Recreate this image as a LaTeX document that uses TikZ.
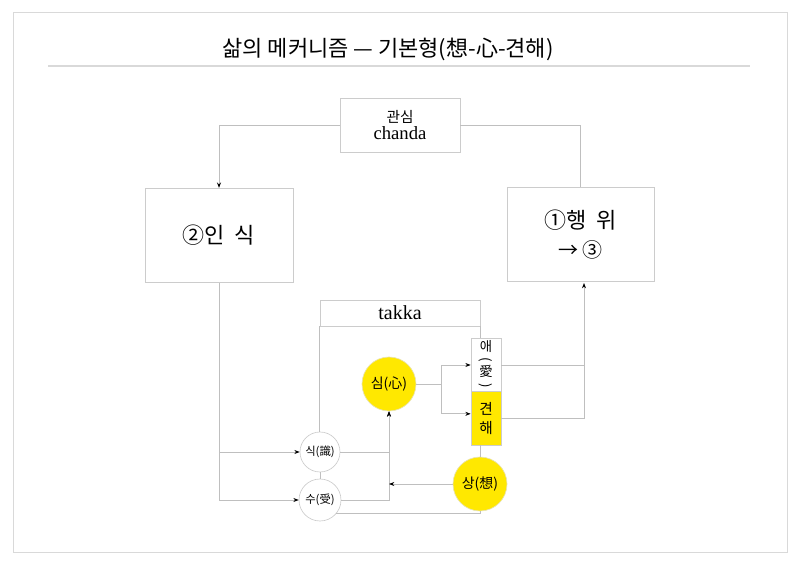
\documentclass[tikz,border=0pt]{standalone}
\usepackage{fontspec}
\usepackage{graphicx}
\setmainfont{Liberation Serif}
\newfontfamily\kr{Noto Sans CJK KR}
\newcommand\tightlines{\lineskiplimit=-20pt\lineskip=0pt\relax}
\usetikzlibrary{arrows.meta}
\definecolor{lemon}{HTML}{FFE800}
\begin{document}
\begin{tikzpicture}[x=0.75pt,y=-0.75pt,
link/.style={draw=black!25, line width=0.5pt},
tip/.style={-{Stealth[length=4pt,width=3pt,black]}},
box/.style={draw=black!20, line width=0.5pt, rectangle, inner sep=0pt, align=center},
bead/.style={draw=black!20, line width=0.5pt, circle, inner sep=0pt, minimum size=30pt, font=\kr\fontsize{8.5}{10}\selectfont},
yolk/.style={bead, fill=lemon, draw=lemon!70!black!30, minimum size=40.5pt, font=\kr\fontsize{10.5}{12}\selectfont}]
\useasboundingbox (0,0) rectangle (800,566);
\draw[draw=black!15, line width=0.6pt] (13,12) rectangle (787,552);
\node (title) at (388,49) {\kr\fontsize{16.5}{19}\selectfont 삶의 메커니즘 — 기본형(想-心-견해)};
\draw[draw=black!15, line width=0.8pt] (48,66) -- (750,66);
% boxes
\node[box, minimum width=90pt, minimum height=40.5pt] (chanda) at (400,125)
  {{\kr\fontsize{11}{13}\selectfont 관심}\\[1pt]\fontsize{14}{16}\selectfont chanda};
\node[box, minimum width=111pt, minimum height=71pt, font=\kr\fontsize{16.5}{20}\selectfont] (insik) at (219,235.5) {②인\ \ 식};
\node[box, minimum width=110pt, minimum height=70pt, font=\kr\fontsize{16.5}{22}\selectfont] (haengwi) at (580.5,234.5) {①행\ \ 위\\{\fontsize{15}{18}\selectfont → ③}};
\node[box, minimum width=120pt, minimum height=19.5pt, font=\fontsize{15}{17}\selectfont] (takka) at (400,313) {takka};
\node[box, minimum width=22.5pt, minimum height=40.5pt, fill=white,
  font=\kr\fontsize{10}{9.7}\selectfont\tightlines] (ae) at (486,365)
  {애\\\rotatebox[origin=c]{-90}{(}\\愛\\\rotatebox[origin=c]{-90}{)}};
\node[box, minimum width=22.5pt, minimum height=40pt, fill=lemon, font=\kr\fontsize{11}{14}\selectfont] (gyeonhae) at (486,418.5) {견\\해};
% circles
\node[yolk] (sim) at (389,384) {심(心)};
\node[yolk] (sang) at (480,484) {상(想)};
\node[bead] (sik) at (320,452) {식(識)};
\node[bead, minimum size=31.5pt] (su) at (320,500) {수(受)};
\coordinate (fork) at (441,384);
\coordinate (riser) at (584,283);
% connectors
\draw[link, tip] (chanda.west) -| (insik.north);
\draw[link] (chanda.east) -| (haengwi.north);
\draw[link] (takka.south west) -- (takka.south west |- sik.north);
\draw[link] (takka.south east) -- (takka.south east |- ae.north);
\draw[link, tip] (insik.south) |- (sik.west);
\draw[link, tip] (insik.south) |- (su.west);
\draw[link] (sik.south) -- (su.north);
\draw[link, tip] (sik.east) -| (sim.south);
\draw[link, tip] (su.east) -| (sim.south);
\draw[link, tip] (sang.west) -- (sang.west -| sim.south);
\draw[link] (sang.south) |- (su.-40);
\draw[link] (sang.north) -- (sang.north |- gyeonhae.south);
\draw[link] (sim.east) -- (fork);
\draw[link, tip] (fork) |- (ae.west);
\draw[link, tip] (fork) |- ([yshift=3.5pt]gyeonhae.west);
\draw[link] (ae.east) -- (ae.east -| riser);
\draw[link, tip] (gyeonhae.east) -| (riser);
\end{tikzpicture}
\end{document}
